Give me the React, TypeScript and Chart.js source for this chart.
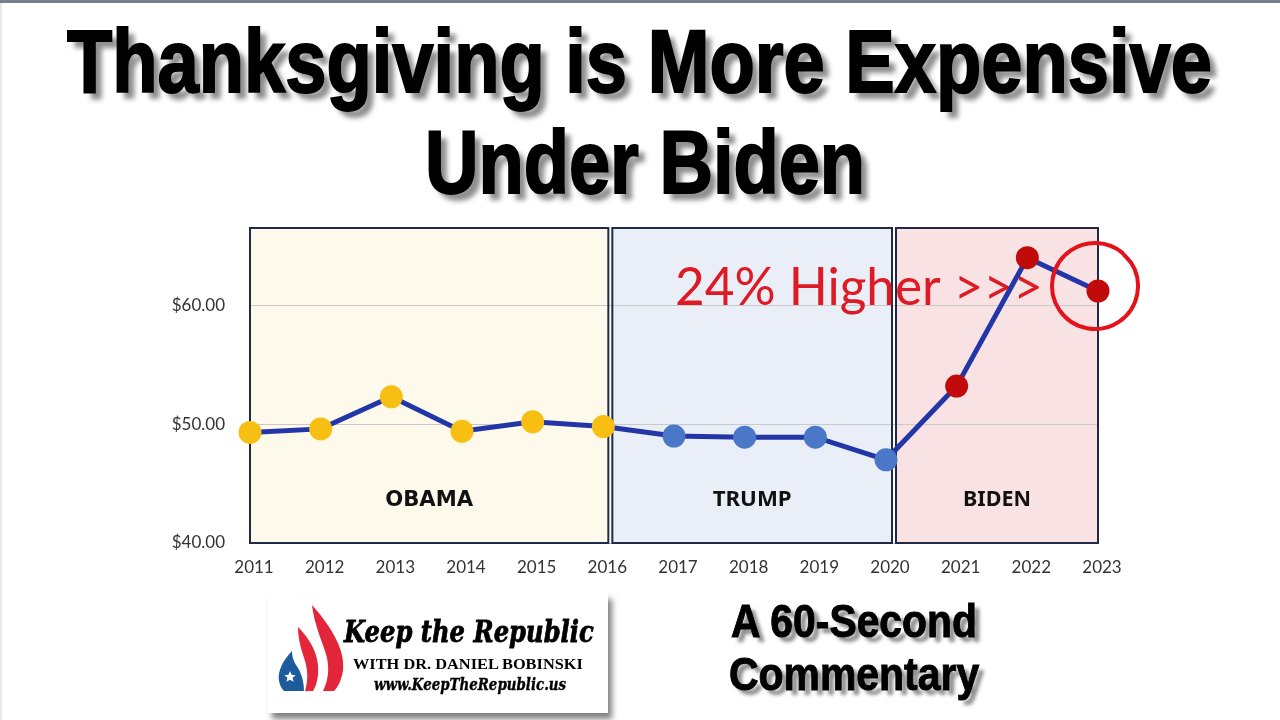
import React, { useEffect, useLayoutEffect, useRef, useState } from "react";
import { Chart, registerables } from "chart.js";
Chart.register(...registerables);

// ---------- data ----------
const years = ["2011", "2012", "2013", "2014", "2015", "2016", "2017", "2018", "2019", "2020", "2021", "2022", "2023"];
const dinnerCost = [49.3, 49.6, 52.3, 49.4, 50.2, 49.8, 49.0, 48.9, 48.9, 47.0, 53.2, 64.0, 61.2];
const presidents = ["OBAMA", "TRUMP", "BIDEN"];
const termEndIndex = [5, 9, 12];
const pointParty = ["OBAMA", "OBAMA", "OBAMA", "OBAMA", "OBAMA", "OBAMA", "TRUMP", "TRUMP", "TRUMP", "TRUMP", "BIDEN", "BIDEN", "BIDEN"];
const yMin = 40;
const yMax = 66.5;
const yStep = 10;
const annotationText = "24% Higher >>>";
const titleLines = ["Thanksgiving is More Expensive", "Under Biden"];
const commentaryLines = ["A 60-Second", "Commentary"];
const logoLines = ["Keep the Republic", "WITH DR. DANIEL BOBINSKI", "www.KeepTheRepublic.us"];

// ---------- styles ----------
const eraFill: Record<string, string> = { OBAMA: "#fdfaec", TRUMP: "#e9eef7", BIDEN: "#f8e2e4" };
const eraPoint: Record<string, string> = { OBAMA: "#f6bf12", TRUMP: "#4a77c7", BIDEN: "#c10a0a" };
const boxBorder = "#1f2a48";
const red = "#de1b24";

function eraBoxes(chart: any) {
  const { chartArea, scales } = chart;
  const x = scales.x;
  const b1 = x.getPixelForTick(termEndIndex[0]) + 7;
  const b2 = x.getPixelForTick(termEndIndex[1]) + 8;
  return [
    { l: chartArea.left, r: b1 - 2 },
    { l: b1 + 2, r: b2 - 2 },
    { l: b2 + 2, r: chartArea.right },
  ];
}

function fitText(ctx: CanvasRenderingContext2D, text: string, x: number, y: number, width: number, align: "left" | "center") {
  const w = ctx.measureText(text).width;
  const sx = width / w;
  ctx.save();
  ctx.translate(x, y);
  ctx.scale(sx, 1);
  ctx.textAlign = align;
  ctx.fillText(text, 0, 0);
  ctx.restore();
}

const eraPlugin = {
  id: "eras",
  beforeDraw(chart: any) {
    const { ctx, chartArea } = chart;
    const boxes = eraBoxes(chart);
    ctx.save();
    boxes.forEach((b, i) => {
      ctx.fillStyle = eraFill[presidents[i]];
      ctx.fillRect(b.l, chartArea.top, b.r - b.l, chartArea.bottom - chartArea.top);
    });
    ctx.restore();
  },
  beforeDatasetsDraw(chart: any) {
    const { ctx, chartArea, scales } = chart;
    const boxes = eraBoxes(chart);
    ctx.save();
    ctx.strokeStyle = boxBorder;
    ctx.lineWidth = 2;
    boxes.forEach((b) => {
      ctx.strokeRect(b.l, chartArea.top, b.r - b.l, chartArea.bottom - chartArea.top);
    });
    ctx.fillStyle = "#111";
    ctx.textBaseline = "middle";
    const labelWidths = [88, 79, 68];
    boxes.forEach((b, i) => {
      ctx.font = i === 0 ? "bold 22px 'DejaVu Sans'" : "bold 22px 'Noto Sans'";
      fitText(ctx, presidents[i], (b.l + b.r) / 2, chartArea.bottom - 43, labelWidths[i], "center");
    });
    // annotation
    ctx.fillStyle = red;
    ctx.textBaseline = "alphabetic";
    ctx.font = "52px Lato";
    fitText(ctx, annotationText, scales.x.getPixelForTick(6) + 1, scales.y.getPixelForValue(60), 368, "left");
    ctx.restore();
  },
  afterDatasetsDraw(chart: any) {
    const { ctx } = chart;
    const pt = chart.getDatasetMeta(0).data[years.length - 1];
    const cx = pt.x - 3;
    const cy = pt.y - 5;
    ctx.save();
    ctx.strokeStyle = "#e3121b";
    ctx.lineWidth = 4;
    ctx.lineCap = "round";
    ctx.beginPath();
    ctx.arc(cx, cy, 43, -0.19 * Math.PI, 1.72 * Math.PI);
    ctx.stroke();
    ctx.beginPath();
    ctx.arc(cx - 1, cy + 1, 44, 1.74 * Math.PI, 1.8 * Math.PI);
    ctx.stroke();
    ctx.restore();
  },
};

type FitProps = {
  text: string;
  left: number;
  baseline: number;
  width: number;
  size: number;
  family: string;
  weight?: number | string;
  italic?: boolean;
  color?: string;
  shadow?: string;
  stroke?: string;
};

function FitLine(p: FitProps) {
  const ref = useRef<HTMLSpanElement>(null);
  const [sx, setSx] = useState(1);
  useLayoutEffect(() => {
    if (ref.current) {
      const w = ref.current.offsetWidth;
      if (w > 0) setSx(p.width / w);
    }
  }, [p.text, p.width]);
  return (
    <span
      ref={ref}
      style={{
        position: "absolute",
        left: p.left,
        top: p.baseline - 0.846 * p.size,
        fontSize: p.size,
        lineHeight: `${p.size}px`,
        fontFamily: p.family,
        fontWeight: p.weight ?? 700,
        fontStyle: p.italic ? "italic" : "normal",
        color: p.color ?? "#000",
        whiteSpace: "nowrap",
        transform: `scaleX(${sx})`,
        transformOrigin: "0 0",
        textShadow: p.shadow,
        WebkitTextStroke: p.stroke,
      } as any}
    >
      {p.text}
    </span>
  );
}

function Flames() {
  const star = (cx: number, cy: number, r: number) => {
    const pts: string[] = [];
    for (let i = 0; i < 10; i++) {
      const rr = i % 2 === 0 ? r : r * 0.45;
      const a = -Math.PI / 2 + (i * Math.PI) / 5;
      pts.push(`${cx + rr * Math.cos(a)},${cy + rr * Math.sin(a)}`);
    }
    return pts.join(" ");
  };
  return (
    <svg width={90} height={110} style={{ position: "absolute", left: 0, top: 0 }}>
      <path d="M44,12 C60,30 78,55 75,78 C73,88 70,94 66,98 L55,98 C61,86 62,72 57,58 C53,46 46,30 44,12 Z" fill="#e3263a" />
      <path d="M30,34 C42,46 52,62 50,82 C49,90 47,95 45,98 L37,98 C40,88 40,78 37,68 C34,58 30,48 30,34 Z" fill="#e3263a" />
      <path d="M24,58 C16,66 9,78 11,88 C12,93 14,96 16,98 L36,98 C36,90 34,80 28,72 C25,67 24,63 24,58 Z" fill="#1d5c9c" />
      <polygon points={star(22, 84, 6)} fill="#fff" />
    </svg>
  );
}

export default function App() {
  const canvasRef = useRef<HTMLCanvasElement>(null);

  useEffect(() => {
    if (!canvasRef.current) return;
    const chart = new Chart(canvasRef.current, {
      type: "line",
      data: {
        labels: years,
        datasets: [
          {
            data: dinnerCost,
            borderColor: "#2236a8",
            borderWidth: 5,
            pointRadius: 11.5,
            pointBorderWidth: 0,
            pointBackgroundColor: pointParty.map((p) => eraPoint[p]),
            pointBorderColor: pointParty.map((p) => eraPoint[p]),
            tension: 0,
            clip: false as any,
          },
        ],
      },
      options: {
        animation: false,
        responsive: false,
        devicePixelRatio: 1,
        layout: { padding: { left: 152, right: 182, top: 228, bottom: 137 } },
        plugins: { legend: { display: false }, tooltip: { enabled: false } },
        events: [],
        scales: {
          x: {
            offset: false,
            grid: { display: false, drawTicks: false },
            border: { display: false },
            ticks: { color: "#333", font: { family: "Lato", size: 17 }, padding: 14, labelOffset: 4, maxRotation: 0, autoSkip: false },
            afterFit: (s: any) => {
              s.height = 40;
            },
          },
          y: {
            min: yMin,
            max: yMax,
            grid: { color: "#c9c9c9", lineWidth: 1, drawTicks: false },
            border: { display: false },
            ticks: {
              stepSize: yStep,
              includeBounds: false,
              color: "#333",
              font: { family: "Lato", size: 17 },
              padding: 25,
              callback: (v: any) => "$" + Number(v).toFixed(2),
            },
            afterFit: (s: any) => {
              s.width = 98;
            },
          },
        },
      },
      plugins: [eraPlugin],
    });
    return () => chart.destroy();
  }, []);

  const titleShadow = "8px 7px 6px rgba(0,0,0,0.45)";
  const smallShadow = "6px 5px 4px rgba(0,0,0,0.45)";

  return (
    <div style={{ position: "fixed", left: 0, top: 0, width: 1280, height: 720, background: "#fff", overflow: "hidden" }}>
      <canvas ref={canvasRef} width={1280} height={720} style={{ position: "absolute", left: 0, top: 0 }} />
      <div style={{ position: "absolute", left: 0, top: 0, width: 1280, height: 3, background: "#76808a" }} />
      <div style={{ position: "absolute", left: 0, top: 3, width: 2, height: 717, background: "#e8e8e8" }} />

      <FitLine text={titleLines[0]} left={67} baseline={92} width={1145} size={89} family="'Liberation Sans', Arial, sans-serif" shadow={titleShadow} stroke="2px #000" />
      <FitLine text={titleLines[1]} left={425} baseline={193} width={440} size={89} family="'Liberation Sans', Arial, sans-serif" shadow={titleShadow} stroke="2px #000" />

      <FitLine text={commentaryLines[0]} left={731} baseline={637} width={246} size={46} family="'Liberation Sans', Arial, sans-serif" shadow={smallShadow} stroke="1px #000" />
      <FitLine text={commentaryLines[1]} left={729} baseline={690} width={250} size={46} family="'Liberation Sans', Arial, sans-serif" shadow={smallShadow} stroke="1px #000" />

      <div style={{ position: "absolute", left: 268, top: 593, width: 340, height: 120, background: "#fff", boxShadow: "4px 6px 6px rgba(0,0,0,0.5)" }}>
        <Flames />
      </div>
      <FitLine text={logoLines[0]} left={344} baseline={643} width={250} size={29} family="'DejaVu Serif', serif" italic stroke="0.8px #000" />
      <FitLine text={logoLines[1]} left={353} baseline={670} width={230} size={15} family="'Liberation Serif', serif" />
      <FitLine text={logoLines[2]} left={374} baseline={690} width={192} size={17} family="'DejaVu Serif', serif" italic stroke="0.4px #000" />
    </div>
  );
}
